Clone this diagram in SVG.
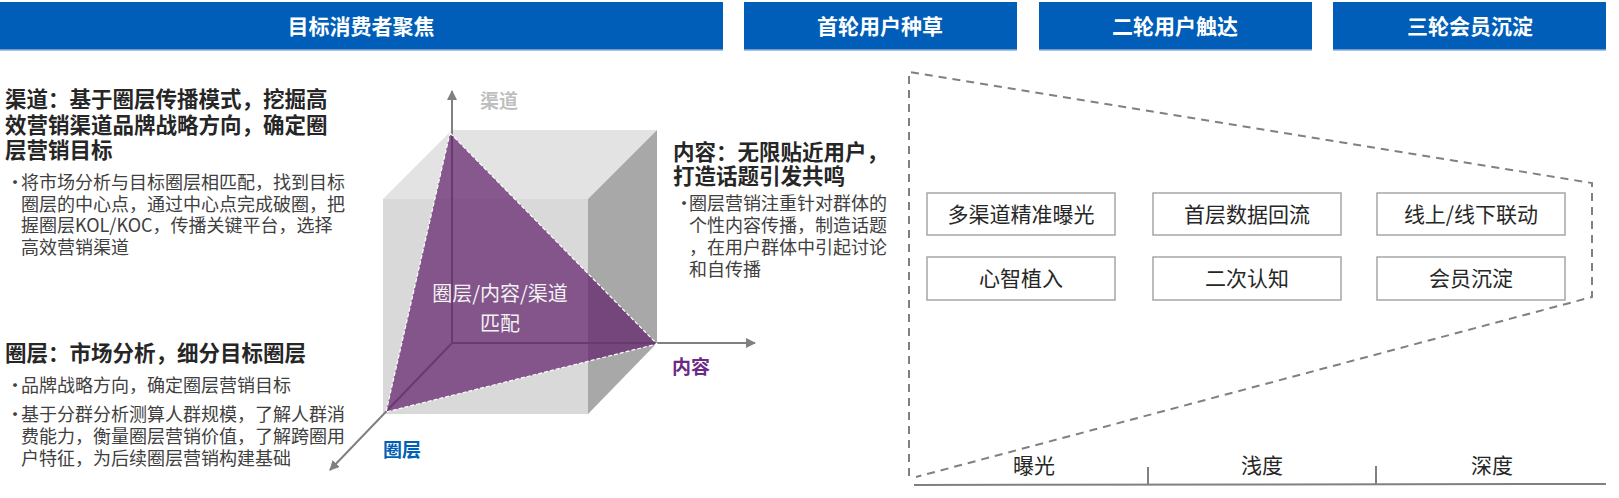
<svg xmlns="http://www.w3.org/2000/svg" width="1619" height="498" viewBox="0 0 1619 498">
<style>
text{font-family:"Noto Sans CJK SC","Noto Sans",sans-serif}
.hbar{fill:#005EB8}
.hline{stroke:#8DB0DA;stroke-width:1.5}
.htxt{fill:#fff;font-size:21px;font-weight:bold;text-anchor:middle}
.ttl{fill:#262626;font-size:21.5px;font-weight:bold}
.bul{fill:#404040;font-size:18px}
.axis{stroke:#808080;stroke-width:2;fill:none}
.box{fill:#fff;stroke:#A6A6A6;stroke-width:1.5}
.btxt{fill:#262626;font-size:21px;text-anchor:middle}
.dash{stroke:#808080;stroke-width:2;fill:none;stroke-dasharray:8 6}
.base{stroke:#808080;stroke-width:2;fill:none}
</style>
<defs>
<marker id="arr" viewBox="0 0 10 10" refX="9" refY="5" markerWidth="10" markerHeight="10" markerUnits="userSpaceOnUse" orient="auto">
<path d="M0,0 L10,5 L0,10 z" fill="#808080"/>
</marker>
</defs>
<rect width="1619" height="498" fill="#fff"/>

<g id="header-1"><rect class="hbar" x="0" y="2" width="723" height="48"/><line class="hline" x1="0" y1="50" x2="723" y2="50"/><text class="htxt" x="361" y="34">目标消费者聚焦</text></g>
<g id="header-2"><rect class="hbar" x="744" y="2" width="273" height="48"/><line class="hline" x1="744" y1="50" x2="1017" y2="50"/><text class="htxt" x="880" y="34">首轮用户种草</text></g>
<g id="header-3"><rect class="hbar" x="1039" y="2" width="273" height="48"/><line class="hline" x1="1039" y1="50" x2="1312" y2="50"/><text class="htxt" x="1175" y="34">二轮用户触达</text></g>
<g id="header-4"><rect class="hbar" x="1333" y="2" width="273" height="48"/><line class="hline" x1="1333" y1="50" x2="1606" y2="50"/><text class="htxt" x="1470" y="34">三轮会员沉淀</text></g>

<g id="text-channel">
<text class="ttl" x="5" y="107">渠道：基于圈层传播模式，挖掘高</text>
<text class="ttl" x="5" y="133">效营销渠道品牌战略方向，确定圈</text>
<text class="ttl" x="5" y="158">层营销目标</text>
<text class="bul" x="6" y="189">•</text>
<text class="bul" x="21" y="189">将市场分析与目标圈层相匹配，找到目标</text>
<text class="bul" x="21" y="211">圈层的中心点，通过中心点完成破圈，把</text>
<text class="bul" x="21" y="232">握圈层KOL/KOC，传播关键平台，选择</text>
<text class="bul" x="21" y="254">高效营销渠道</text>
</g>

<g id="text-circle">
<text class="ttl" x="5" y="361">圈层：市场分析，细分目标圈层</text>
<text class="bul" x="6" y="392">•</text>
<text class="bul" x="21" y="392">品牌战略方向，确定圈层营销目标</text>
<text class="bul" x="6" y="421">•</text>
<text class="bul" x="21" y="421">基于分群分析测算人群规模，了解人群消</text>
<text class="bul" x="21" y="443">费能力，衡量圈层营销价值，了解跨圈用</text>
<text class="bul" x="21" y="465">户特征，为后续圈层营销构建基础</text>
</g>

<g id="text-content">
<text class="ttl" x="673" y="160">内容：无限贴近用户，</text>
<text class="ttl" x="673" y="184">打造话题引发共鸣</text>
<text class="bul" x="675" y="210">•</text>
<text class="bul" x="689" y="210">圈层营销注重针对群体的</text>
<text class="bul" x="689" y="232">个性内容传播，制造话题</text>
<text class="bul" x="689" y="254">，在用户群体中引起讨论</text>
<text class="bul" x="689" y="276">和自传播</text>
</g>

<g id="cube">
<polygon points="383,199 452,130 657,130 588,199" fill="#E3E3E3"/>
<rect x="383" y="199" width="205" height="215" fill="#D9D9D9"/>
<polygon points="588,199 657,130 657,343 588,414" fill="#A8A8A8"/>
</g>

<g id="connectors">
<line class="axis" x1="452" y1="343" x2="452" y2="91" marker-end="url(#arr)"/>
<line class="axis" x1="452" y1="343" x2="755" y2="343" marker-end="url(#arr)"/>
<line class="axis" x1="452" y1="343" x2="330" y2="470" marker-end="url(#arr)"/>
</g>

<g id="triangle">
<polygon points="450,133 657,344 386,412" fill="rgb(94,29,105)" fill-opacity="0.7" stroke="#fff" stroke-width="1.2" stroke-dasharray="4 2"/>
<text x="500" y="301" fill="#F2F2F2" font-size="20" text-anchor="middle">圈层/内容/渠道</text>
<text x="500" y="331" fill="#F2F2F2" font-size="20" text-anchor="middle">匹配</text>
</g>

<g id="axis-labels">
<text x="480" y="108" fill="#BFBFBF" font-size="19" font-weight="bold">渠道</text>
<text x="672" y="374" fill="#6B2A85" font-size="19" font-weight="bold">内容</text>
<text x="383" y="457" fill="#0060B6" font-size="19" font-weight="bold">圈层</text>
</g>

<g id="funnel">
<path class="dash" d="M909,476 L909,72 L1592,183 L1592,297 L916,477"/>
<line class="base" x1="914" y1="485" x2="1606" y2="484"/>
<line class="base" x1="1148" y1="467" x2="1148" y2="485"/>
<line class="base" x1="1376" y1="466" x2="1376" y2="484"/>
<text class="btxt" x="1034" y="473">曝光</text>
<text class="btxt" x="1262" y="473">浅度</text>
<text class="btxt" x="1492" y="473">深度</text>
</g>

<g id="box-1"><rect class="box" x="927" y="193" width="188" height="42"/><text class="btxt" x="1021" y="222">多渠道精准曝光</text></g>
<g id="box-2"><rect class="box" x="1153" y="193" width="188" height="42"/><text class="btxt" x="1247" y="222">首层数据回流</text></g>
<g id="box-3"><rect class="box" x="1377" y="193" width="188" height="42"/><text class="btxt" x="1471" y="222">线上/线下联动</text></g>
<g id="box-4"><rect class="box" x="927" y="257" width="188" height="43"/><text class="btxt" x="1021" y="286">心智植入</text></g>
<g id="box-5"><rect class="box" x="1153" y="257" width="188" height="43"/><text class="btxt" x="1247" y="286">二次认知</text></g>
<g id="box-6"><rect class="box" x="1377" y="257" width="188" height="43"/><text class="btxt" x="1471" y="286">会员沉淀</text></g>
</svg>
